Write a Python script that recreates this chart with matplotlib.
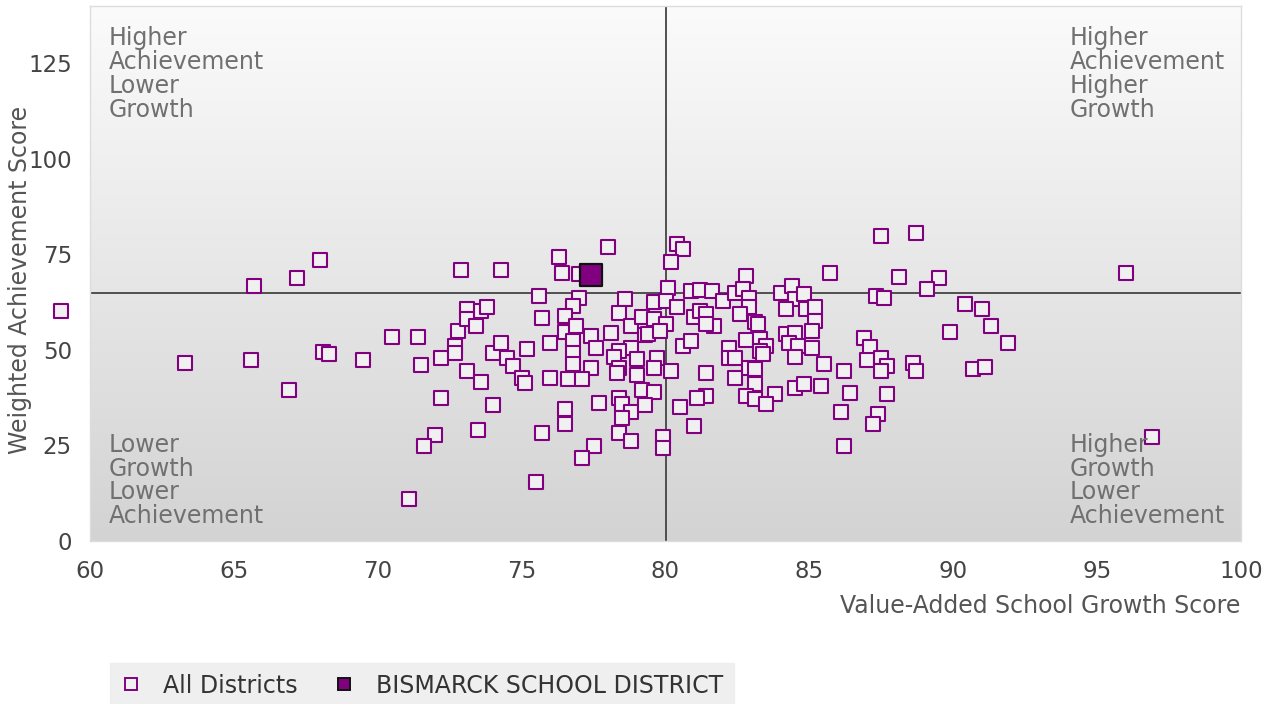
import matplotlib
matplotlib.use("Agg")
import matplotlib.pyplot as plt
import numpy as np
from matplotlib.colors import LinearSegmentedColormap
from matplotlib.lines import Line2D

# ---- data ----
growth = [59.0, 63.3, 65.6, 65.7, 66.9, 67.2, 68.0, 68.1, 68.3, 69.5, 70.5, 71.4, 71.5, 72.2, 72.2,
          72.0, 71.6, 71.1, 72.9, 74.3, 72.7, 72.7, 72.8, 73.1, 73.1, 73.4, 73.6, 73.8, 74.0, 74.3,
          74.5, 74.7, 75.0, 75.1, 75.2, 73.1, 73.6, 73.5, 74.0, 75.5, 75.6, 75.7, 76.0, 76.0, 75.7,
          76.3, 76.4, 78.0, 77.0, 76.8, 76.5, 76.5, 76.9, 77.4, 76.8, 77.6, 76.8, 76.8, 77.4, 76.6,
          77.1, 76.5, 76.5, 77.7, 77.5, 77.1, 78.6, 79.6, 78.1, 78.4, 78.8, 79.2, 79.6, 79.3, 78.8,
          78.4, 78.2, 78.4, 79.0, 79.7, 78.3, 79.0, 78.4, 78.5, 78.8, 79.2, 79.6, 79.3, 78.5, 78.4,
          78.8, 79.4, 79.6, 79.9, 79.9, 80.4, 80.6, 80.2, 80.1, 80.0, 80.4, 80.9, 81.2, 81.6, 82.0,
          82.4, 82.8, 82.7, 82.9, 82.9, 84.0, 84.4, 84.5, 84.8, 85.7, 84.2, 84.9, 85.2, 85.2, 85.1,
          81.0, 81.2, 81.4, 81.7, 81.4, 82.6, 83.1, 83.2, 80.0, 79.8, 80.6, 80.9, 82.2, 82.8, 83.3,
          83.5, 83.3, 82.2, 82.4, 83.4, 84.2, 84.5, 84.3, 84.6, 85.1, 84.5, 85.5, 86.2, 81.4, 82.9,
          83.1, 82.4, 80.2, 83.1, 83.8, 82.8, 83.1, 83.5, 84.5, 84.8, 85.4, 86.4, 86.1, 86.2, 81.4,
          81.1, 80.5, 81.0, 87.5, 88.7, 88.1, 89.5, 89.1, 87.3, 87.6, 90.4, 91.0, 91.3, 91.9, 89.9,
          86.9, 87.1, 87.0, 87.5, 87.7, 87.5, 88.6, 88.7, 90.7, 91.1, 87.7, 87.4, 87.2, 96.0, 96.9,
          77.0]
achievement = [60.3, 46.6, 47.4, 66.6, 39.6, 68.7, 73.6, 49.5, 49.0, 47.4, 53.5, 53.5, 46.1, 48.0, 37.5,
               27.8, 24.9, 11.0, 71.0, 71.0, 51.1, 49.3, 55.0, 60.8, 58.2, 56.3, 60.3, 61.3, 49.3, 51.9,
               48.0, 45.9, 42.7, 41.4, 50.3, 44.5, 41.7, 29.1, 35.6, 15.5, 64.2, 58.4, 51.9, 42.7, 28.3,
               74.2, 70.2, 77.0, 63.7, 61.6, 59.0, 54.8, 56.3, 53.7, 52.4, 50.6, 49.3, 46.4, 45.3, 42.5,
               42.5, 34.6, 30.7, 36.2, 24.9, 21.8, 63.2, 62.6, 54.5, 59.7, 56.3, 58.7, 58.2, 54.0, 50.6,
               49.8, 48.2, 45.3, 47.7, 48.0, 44.0, 43.5, 37.5, 35.9, 33.8, 39.6, 39.0, 35.6, 32.2, 28.3,
               26.2, 54.2, 45.3, 27.3, 24.4, 77.8, 76.5, 72.9, 66.3, 62.9, 61.3, 65.3, 65.8, 65.3, 62.9,
               65.0, 69.4, 66.0, 63.7, 61.3, 65.0, 66.8, 63.4, 64.7, 70.2, 60.8, 60.8, 61.3, 57.7, 55.0,
               58.7, 60.3, 59.5, 56.3, 56.9, 59.5, 57.4, 56.9, 56.9, 55.0, 51.1, 52.4, 50.6, 52.7, 52.9,
               51.1, 49.8, 48.0, 48.0, 49.0, 54.2, 54.5, 51.9, 51.1, 50.6, 48.2, 46.4, 44.5, 44.0, 45.3,
               45.1, 42.7, 44.5, 41.1, 38.5, 38.0, 37.2, 35.9, 40.1, 41.1, 40.6, 38.8, 33.8, 24.9, 38.0,
               37.5, 35.1, 30.1, 79.9, 80.5, 69.2, 68.7, 66.0, 64.2, 63.7, 62.1, 60.8, 56.3, 51.9, 54.8,
               53.2, 50.8, 47.4, 48.0, 45.9, 44.5, 46.6, 44.5, 45.1, 45.6, 38.5, 33.3, 30.7, 70.2, 27.3,
               70.0]

district_name = "BISMARCK SCHOOL DISTRICT"
district_growth = [77.4]
district_achievement = [69.7]

x_ticks = [60, 65, 70, 75, 80, 85, 90, 95, 100]
y_ticks = [0, 25, 50, 75, 100, 125]
growth_cut = 80
achievement_cut = 65

quad_labels = {
    "tl": "Higher\nAchievement\nLower\nGrowth",
    "tr": "Higher\nAchievement\nHigher\nGrowth",
    "bl": "Lower\nGrowth\nLower\nAchievement",
    "br": "Higher\nGrowth\nLower\nAchievement",
}

# ---- figure ----
W, H = 1272, 704
fig = plt.figure(figsize=(W / 100, H / 100), dpi=100)
plt.rcParams['font.family'] = ['DejaVu Sans']
ax = fig.add_axes([90 / W, (H - 541) / H, (1241 - 90) / W, (541 - 6) / H])

purple = "#800080"
fs = 17

# gradient background
cmap = LinearSegmentedColormap.from_list("bg", ["#d3d3d3", "#fbfbfb"])
grad = np.linspace(0, 1, 256).reshape(-1, 1)
ax.imshow(grad, cmap=cmap, aspect="auto", origin="lower",
          extent=[60, 100, 0, 140], zorder=0)

ax.axvline(growth_cut, color="#444444", lw=1.3, zorder=1)
ax.axhline(achievement_cut, color="#444444", lw=1.3, zorder=1)

ax.scatter(growth, achievement, marker="s", s=95, facecolor="#f0f0f0",
           edgecolor=purple, linewidth=1.5, zorder=3, clip_on=False)
ax.scatter(district_growth, district_achievement, marker="s", s=240,
           facecolor=purple, edgecolor="#111111", linewidth=1.6, zorder=4)

ax.set_xlim(60, 100)
ax.set_ylim(0, 140)
ax.set_xticks(x_ticks)
ax.set_yticks(y_ticks)
ax.tick_params(length=0, labelsize=16.5, labelcolor="#444444")
ax.tick_params(axis="y", pad=13)
ax.tick_params(axis="x", pad=14)
for s in ax.spines.values():
    s.set_color("#dddddd")
    s.set_linewidth(1)

tc = "#707070"
ls = 0.99
ax.text(0.016, 0.962, quad_labels["tl"], transform=ax.transAxes, ha="left", va="top",
        fontsize=fs, color=tc, linespacing=ls)
ax.text(0.851, 0.962, quad_labels["tr"], transform=ax.transAxes, ha="left", va="top",
        fontsize=fs, color=tc, linespacing=ls)
ax.text(0.016, 0.024, quad_labels["bl"], transform=ax.transAxes, ha="left", va="bottom",
        fontsize=fs, color=tc, linespacing=ls)
ax.text(0.851, 0.024, quad_labels["br"], transform=ax.transAxes, ha="left", va="bottom",
        fontsize=fs, color=tc, linespacing=ls)

fig.text(1240 / W, 1 - 606 / H, "Value-Added School Growth Score", ha="right", va="center",
         fontsize=fs, color="#555555")
fig.text(20 / W, 1 - 280 / H, "Weighted Achievement Score", ha="center", va="center",
         rotation=90, fontsize=fs, color="#555555")

handles = [
    Line2D([], [], marker="s", linestyle="none", markersize=9, markerfacecolor="#f0f0f0",
           markeredgecolor=purple, markeredgewidth=1.4),
    Line2D([], [], marker="s", linestyle="none", markersize=9, markerfacecolor=purple,
           markeredgecolor="#111111", markeredgewidth=1.4),
]
leg = fig.legend(handles, ["All Districts", district_name], loc="lower left",
                 bbox_to_anchor=(110 / W, -0.006), borderaxespad=0.0, ncol=2, frameon=True,
                 fontsize=fs, handlelength=0.9, handletextpad=0.9, columnspacing=1.5,
                 borderpad=0.45, fancybox=False)
leg.get_frame().set_facecolor("#ececec")
leg.get_frame().set_edgecolor("#ececec")
for t in leg.get_texts():
    t.set_color("#333333")

fig.savefig("out.png", dpi=100)
